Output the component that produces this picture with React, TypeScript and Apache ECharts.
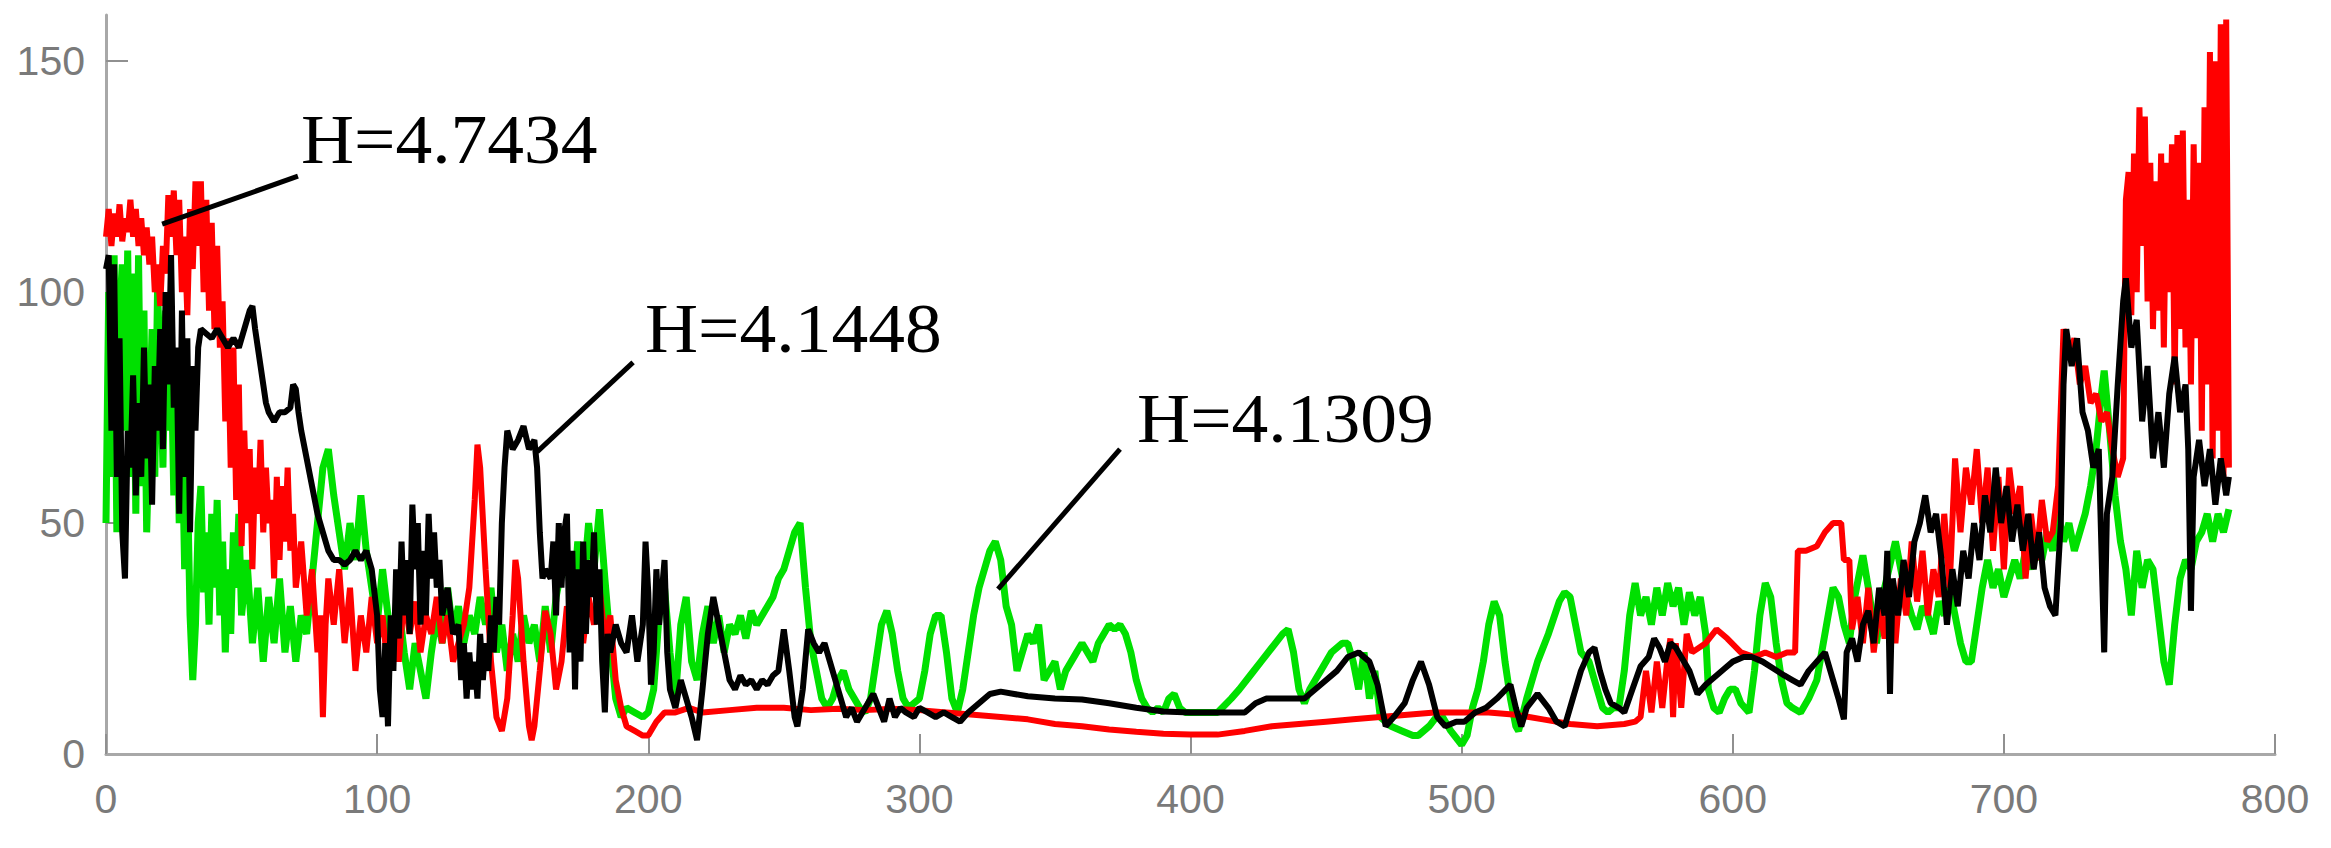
import React, { useEffect, useRef } from "react";
import * as echarts from "echarts";

const xTicks = [0, 100, 200, 300, 400, 500, 600, 700, 800];
const yTicks = [0, 50, 100, 150];

const redSeries: number[][] = [
  [0,112],[1,118],[2,110],[3,117],[4,112],[5,119],[6,111],[7,116],[8,113],[9,120],[10,112],[11,118],[12,110],[13,116],[14,108],[15,114],[16,106],[17,112],[18,100],[19,106],[20,97],[21,110],[22,104],[23,121],[24,112],[25,122],[26,108],[27,120],[28,100],[29,112],[30,95],[31,118],[32,105],[33,124],[34,110],[35,124],[36,100],[37,120],[38,96],[39,115],[40,92],[41,110],[42,88],[43,98],[44,72],[45,90],[46,62],[47,88],[48,55],[49,80],[50,45],[51,70],[52,50],[53,66],[54,40],[55,62],[56,52],[57,68],[58,48],[59,62],[60,50],[61,55],[62,38],[63,60],[64,42],[65,58],[66,46],[67,62],[68,44],[69,52],[70,36],[72,46],[74,30],[76,40],[78,22],[79,30],[80,8],[81,28],[82,38],[84,28],[86,40],[88,24],[90,36],[92,18],[94,30],[96,22],[98,34],[100,24],[102,30],[104,18],[106,28],[108,20],[110,34],[112,26],[114,33],[116,22],[118,30],[120,26],[122,34],[124,24],[126,30],[128,20],[130,24],[132,28],[134,36],[136,55],[137,67],[138,62],[140,40],[142,20],[144,8],[146,5],[148,12],[150,30],[151,42],[152,38],[154,20],[156,6],[157,3],[158,6],[160,18],[162,31],[164,26],[166,14],[168,20],[170,32],[172,26],[174,36],[176,24],[178,34],[180,28],[182,36],[184,25],[186,30],[188,16],[190,10],[192,6],[195,5],[198,4],[200,4],[203,7],[206,9],[210,9],[215,10],[220,9],[230,9.5],[240,10],[250,10],[260,9.5],[270,9.8],[280,9.5],[290,9.8],[300,9.5],[310,9],[320,8.5],[330,8],[340,7.5],[350,6.5],[360,6],[370,5.3],[380,4.8],[390,4.4],[400,4.2],[410,4.2],[420,5],[430,6],[440,6.5],[450,7],[460,7.5],[470,8],[480,8.5],[490,9],[500,9],[510,9],[520,8.5],[530,7.5],[540,6.5],[550,6],[560,6.5],[564,7],[566,8],[568,18],[570,9],[572,20],[574,10],[576,21],[577,25],[578,8],[579,24],[581,10],[583,26],[585,22],[590,24],[594,27],[598,25],[603,22],[608,21],[612,22],[616,21],[620,22],[623,22],[624,44],[627,44],[631,45],[634,48],[637,50],[640,50],[641,42],[643,42],[644,27],[646,34],[648,24],[650,36],[652,22],[654,32],[656,25],[658,35],[660,24],[662,38],[664,30],[666,46],[668,33],[670,44],[672,30],[674,40],[676,34],[678,52],[680,36],[682,64],[684,48],[686,62],[688,54],[690,66],[692,50],[694,62],[696,44],[698,60],[700,40],[702,62],[704,52],[706,58],[708,38],[710,52],[712,42],[714,55],[716,46],[718,48],[720,58],[722,92],[724,86],[726,90],[728,80],[730,84],[732,76],[734,78],[736,72],[738,74],[740,66],[742,60],[744,64],[745,120],[746,126],[747,95],[748,130],[749,100],[750,140],[751,110],[752,138],[753,98],[754,128],[755,92],[756,124],[757,96],[758,130],[759,88],[760,128],[761,100],[762,132],[763,80],[764,134],[765,92],[766,135],[767,88],[768,120],[769,80],[770,132],[771,90],[772,128],[773,70],[774,140],[775,80],[776,152],[777,64],[778,150],[779,70],[780,158],[781,60],[782,159],[783,62]
];

const greenSeries: number[][] = [
  [0,50],[1,100],[2,60],[3,108],[4,48],[5,95],[6,106],[7,70],[8,109],[9,60],[10,104],[11,52],[12,108],[13,58],[14,96],[15,48],[16,70],[17,92],[18,60],[19,100],[20,85],[21,62],[22,96],[23,70],[24,88],[25,56],[26,80],[27,50],[28,72],[29,40],[30,60],[31,30],[32,16],[33,28],[34,50],[35,58],[36,35],[37,48],[38,28],[39,52],[40,36],[41,55],[42,30],[43,46],[44,22],[45,40],[46,26],[47,48],[48,36],[49,52],[50,30],[52,42],[54,24],[56,36],[58,20],[60,34],[62,24],[64,38],[66,22],[68,32],[70,20],[72,30],[74,26],[76,38],[78,50],[80,62],[82,66],[84,56],[86,48],[88,40],[90,50],[92,42],[94,56],[96,44],[98,36],[100,28],[102,40],[104,30],[106,20],[108,32],[110,22],[112,14],[114,24],[116,18],[118,12],[120,22],[122,30],[124,24],[126,36],[128,26],[130,32],[132,24],[134,30],[136,26],[138,34],[140,28],[142,36],[144,22],[146,28],[148,18],[150,26],[152,20],[154,30],[156,24],[158,28],[160,20],[162,32],[164,22],[166,34],[168,40],[170,44],[172,30],[174,46],[176,36],[178,50],[180,40],[182,53],[184,38],[186,24],[188,12],[190,8],[192,10],[195,9],[198,8],[200,9],[202,14],[204,30],[206,36],[208,22],[210,12],[212,28],[214,34],[216,20],[218,16],[220,26],[222,32],[224,24],[226,30],[228,22],[230,28],[232,26],[234,30],[236,25],[238,31],[240,28],[242,30],[244,32],[246,34],[248,38],[250,40],[252,44],[254,48],[256,50],[258,36],[260,24],[262,18],[264,12],[266,10],[268,12],[270,16],[272,18],[274,14],[276,12],[278,10],[280,9],[282,12],[284,20],[286,28],[288,31],[290,26],[292,18],[294,12],[296,10],[298,11],[300,12],[302,18],[304,26],[306,30],[308,30],[310,22],[312,12],[314,9],[316,14],[318,22],[320,30],[322,36],[324,40],[326,44],[328,46],[330,42],[332,32],[334,28],[336,18],[338,22],[340,26],[342,24],[344,28],[346,16],[348,18],[350,20],[352,14],[354,18],[356,20],[358,22],[360,24],[362,22],[364,20],[366,24],[368,26],[370,28],[372,27],[374,28],[376,26],[378,22],[380,16],[382,12],[384,10],[386,9],[388,10],[390,9],[392,12],[394,13],[396,10],[398,9],[400,9],[405,9],[410,9],[415,12],[418,14],[422,17],[426,20],[430,23],[434,26],[436,27],[438,22],[440,14],[442,11],[444,14],[446,16],[448,18],[450,20],[452,22],[456,24],[458,24],[460,20],[462,14],[464,22],[466,12],[468,18],[470,8],[474,6],[478,5],[482,4],[484,4],[488,6],[492,9],[496,5],[500,2],[502,4],[504,10],[506,14],[508,20],[510,28],[512,33],[514,30],[516,20],[518,12],[520,6],[521,5],[524,12],[528,20],[532,26],[536,33],[538,35],[540,34],[542,28],[544,22],[547,20],[550,14],[552,10],[554,9],[556,10],[558,10],[560,18],[562,30],[564,37],[566,30],[568,34],[570,28],[572,36],[574,30],[576,37],[578,32],[580,36],[582,28],[584,35],[586,30],[588,34],[590,26],[591,14],[593,10],[595,9],[597,12],[599,14],[601,14],[603,11],[606,9],[608,18],[610,30],[612,37],[614,34],[616,24],[618,16],[620,11],[622,10],[625,9],[628,12],[631,16],[634,26],[637,36],[639,34],[641,28],[643,24],[645,34],[648,43],[650,36],[653,24],[656,36],[660,46],[662,40],[664,34],[666,30],[668,27],[670,32],[672,30],[674,26],[676,33],[678,30],[680,36],[682,30],[684,24],[686,20],[688,20],[690,28],[692,36],[694,42],[696,36],[698,40],[700,34],[702,38],[704,42],[706,38],[708,44],[710,40],[712,46],[714,42],[716,48],[718,44],[720,52],[722,46],[724,50],[726,44],[728,48],[730,52],[732,58],[734,66],[736,78],[737,83],[739,70],[741,56],[743,46],[745,40],[747,30],[749,44],[751,36],[753,42],[755,40],[757,30],[759,20],[761,15],[763,28],[765,38],[767,42],[769,40],[771,46],[773,48],[775,52],[777,46],[779,52],[781,48],[783,53]
];

const blackSeries: number[][] = [
  [0,105],[1,108],[2,70],[3,106],[4,60],[5,90],[6,48],[7,38],[8,70],[9,62],[10,82],[11,56],[12,76],[13,60],[14,88],[15,64],[16,80],[17,54],[18,84],[19,70],[20,92],[21,66],[22,100],[23,80],[24,108],[25,75],[26,88],[27,52],[28,96],[29,60],[30,90],[31,48],[32,84],[33,70],[34,88],[35,92],[37,91],[39,90],[41,92],[43,90],[45,88],[47,90],[49,88],[51,92],[53,96],[54,97],[55,92],[56,88],[57,84],[58,80],[59,76],[60,74],[62,72],[64,74],[66,74],[68,75],[69,80],[70,79],[71,74],[72,70],[74,64],[76,58],[78,52],[80,48],[82,44],[84,42],[86,42],[88,41],[90,42],[92,44],[94,42],[96,44],[98,40],[100,30],[101,14],[102,8],[103,24],[104,6],[105,30],[106,18],[107,40],[108,25],[109,46],[110,30],[111,42],[112,26],[113,54],[114,40],[115,50],[116,28],[117,44],[118,30],[119,52],[120,38],[121,48],[122,36],[123,42],[124,30],[126,36],[128,26],[130,28],[131,16],[132,24],[133,12],[134,22],[135,14],[136,20],[137,12],[138,26],[139,16],[140,24],[141,18],[142,30],[143,22],[144,34],[145,28],[146,50],[147,62],[148,70],[150,66],[152,68],[154,71],[156,66],[158,68],[159,62],[160,48],[161,38],[162,40],[164,38],[165,46],[166,30],[167,50],[168,36],[169,48],[170,52],[171,22],[172,44],[173,14],[174,40],[175,20],[176,46],[177,26],[178,42],[179,34],[180,48],[181,28],[182,40],[183,20],[184,9],[185,26],[186,22],[188,28],[190,24],[192,22],[194,30],[196,20],[198,28],[199,46],[200,35],[201,15],[202,22],[203,40],[204,28],[206,42],[207,22],[208,14],[210,10],[212,16],[214,12],[216,8],[218,3],[220,14],[222,26],[224,34],[226,28],[228,22],[230,16],[232,14],[234,17],[236,15],[238,16],[240,14],[242,16],[244,15],[246,17],[248,18],[250,27],[252,18],[254,8],[255,6],[257,14],[259,27],[261,24],[263,22],[265,24],[267,20],[269,16],[271,12],[273,8],[275,10],[277,7],[279,9],[281,11],[283,13],[285,10],[287,7],[289,12],[291,8],[293,10],[295,9],[298,8],[300,10],[303,9],[306,8],[309,9],[312,8],[315,7],[318,9],[322,11],[326,13],[330,13.5],[335,13],[340,12.5],[350,12],[360,11.8],[370,11],[380,10],[390,9.2],[400,9],[410,9],[420,9],[424,11],[428,12],[435,12],[442,12],[448,15],[454,18],[458,21],[462,22],[466,20],[469,15],[472,6],[475,8],[479,11],[482,16],[485,20],[488,15],[491,8],[494,6],[498,7],[501,7],[505,9],[509,10],[513,12],[518,15],[520,10],[522,6],[524,10],[528,13],[532,10],[535,7],[538,6],[541,12],[544,18],[547,22],[549,23],[551,18],[553,14],[555,11],[558,10],[560,9],[563,14],[566,19],[569,21],[571,25],[573,23],[575,20],[577,24],[579,23],[581,21],[584,18],[587,13],[590,15],[594,17],[597,18.5],[600,20],[604,21],[607,21],[611,20],[615,18.5],[619,17],[622,16],[625,15],[628,18],[631,20],[634,22],[637,16],[639,12],[641,7.5],[642,22],[644,25],[646,20],[648,28],[650,31],[652,24],[654,36],[656,30],[657,44],[658,13],[659,38],[661,30],[663,42],[665,34],[667,46],[669,50],[671,56],[673,48],[675,52],[677,42],[679,28],[681,40],[683,32],[685,44],[687,38],[689,50],[691,42],[693,56],[695,48],[697,62],[699,50],[701,58],[703,46],[705,54],[707,44],[709,52],[711,40],[713,48],[715,36],[717,32],[719,30],[721,50],[722,80],[723,92],[725,84],[727,90],[729,74],[731,70],[733,62],[735,66],[737,22],[738,52],[740,60],[742,80],[744,98],[745,103],[747,88],[749,94],[751,72],[753,84],[755,64],[757,74],[759,62],[761,78],[763,86],[765,74],[767,80],[768,66],[769,31],[770,60],[772,68],[774,58],[776,66],[778,54],[780,64],[782,56],[783,60]
];

// annotation: label, text anchor (left, cap-centre) and leader line from/to, all in data units
const annotationLabels = ["H=4.7434", "H=4.1448", "H=4.1309"];
const annotationTextAt = [[71.9, 133.1], [198.8, 92], [380.3, 72.7]];
const annotationLineFrom = [[70.8, 125.1], [194.4, 84.8], [374, 66]];
const annotationLineTo = [[20.7, 114.7], [159, 65.4], [329, 35.7]];

export default function App() {
  const ref = useRef<HTMLDivElement>(null);
  useEffect(() => {
    if (!ref.current) return;
    const chart = echarts.init(ref.current, null, { renderer: "svg" });
    const axisGray = "#a8a8a8";
    const labelGray = "#7a7a7a";
    chart.setOption({
      animation: false,
      backgroundColor: "#ffffff",
      grid: { left: 106, right: 56, top: 15, bottom: 94, containLabel: false },
      xAxis: {
        type: "value",
        min: 0,
        max: 800,
        interval: 100,
        splitLine: { show: false },
        axisLine: { show: true, lineStyle: { color: axisGray, width: 3 } },
        axisTick: { show: true, inside: true, length: 20, lineStyle: { color: "#909090", width: 2 }, customValues: xTicks },
        axisLabel: { color: labelGray, fontSize: 41, fontFamily: "Liberation Sans, Arial, sans-serif", margin: 24, customValues: xTicks },
      },
      yAxis: {
        type: "value",
        min: 0,
        max: 160,
        interval: 50,
        splitLine: { show: false },
        axisLine: { show: true, onZero: false, lineStyle: { color: axisGray, width: 3 } },
        axisTick: { show: true, inside: true, length: 22, lineStyle: { color: "#909090", width: 2 }, customValues: [50, 100, 150] },
        axisLabel: { color: labelGray, fontSize: 41, fontFamily: "Liberation Sans, Arial, sans-serif", margin: 21, customValues: yTicks },
      },
      series: [
        { type: "line", data: greenSeries, symbol: "none", lineStyle: { color: "#00e000", width: 7 }, z: 2 },
        { type: "line", data: redSeries, symbol: "none", lineStyle: { color: "#ff0000", width: 6 }, z: 3 },
        { type: "line", data: blackSeries, symbol: "none", lineStyle: { color: "#000000", width: 6 }, z: 4 },
      ],
    });

    const px = (p: number[]) => chart.convertToPixel({ gridIndex: 0 }, p) as number[];
    const graphics: any[] = [];
    annotationLabels.forEach((label, i) => {
      const a = px(annotationLineFrom[i]);
      const b = px(annotationLineTo[i]);
      const t = px(annotationTextAt[i]);
      graphics.push({
        type: "line",
        shape: { x1: a[0], y1: a[1], x2: b[0], y2: b[1] },
        style: { stroke: "#000000", lineWidth: 5 },
        z: 10,
      });
      graphics.push({
        type: "text",
        x: t[0],
        y: t[1],
        scaleX: 1.05,
        style: {
          text: label,
          fill: "#000000",
          fontSize: 70,
          fontFamily: "Liberation Serif, Times New Roman, serif",
          align: "left",
          verticalAlign: "middle",
        },
        z: 10,
      });
    });
    chart.setOption({ graphic: graphics });

    return () => chart.dispose();
  }, []);
  return (
    <div
      ref={ref}
      style={{ position: "absolute", left: 0, top: 0, width: 2331, height: 848, background: "#fff" }}
    />
  );
}
